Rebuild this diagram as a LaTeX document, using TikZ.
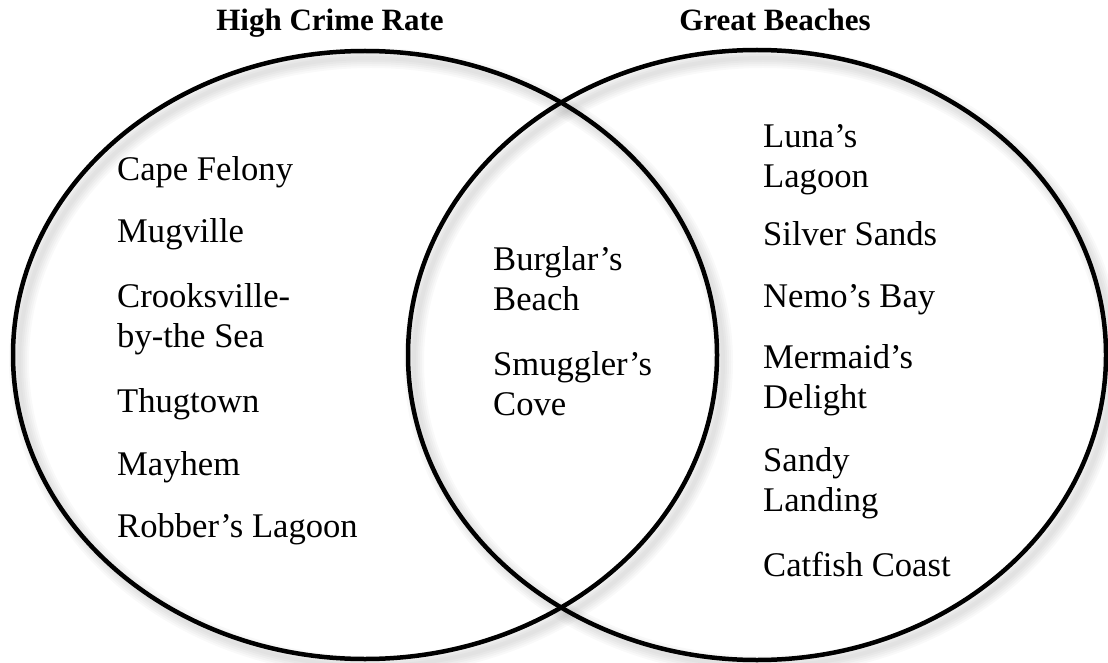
\documentclass[tikz,border=0pt]{standalone}
\usepackage{fontspec}
\setmainfont{Liberation Serif}
\begin{document}
\begin{tikzpicture}[x=1pt,y=-1pt,
  item/.style={anchor=base west,inner sep=0pt,align=left,font=\fontsize{34.6}{40}\selectfont},
  title/.style={anchor=base,inner sep=0pt,font=\fontsize{31}{36}\selectfont\bfseries},
  ring/.style={line width=4.5pt,draw=black},
  shade/.style={line width=#1,draw=black,opacity=0.025}]
\useasboundingbox (0,0) rectangle (1108,663);
% soft drop shadow
\foreach \w in {4,8,12,16,20}{
  \draw[shade=\w pt] (371,362) ellipse [x radius=352,y radius=304];
  \draw[shade=\w pt] (763,362) ellipse [x radius=349,y radius=304];
}
\draw[ring] (365,355) ellipse [x radius=352,y radius=304];
\draw[ring] (757,355) ellipse [x radius=349,y radius=305];
\node[title] (t1) at (330,31) {High Crime Rate};
\node[title] (t2) at (775,31) {Great Beaches};
% left (multi-line nodes are placed by their last line's baseline)
\node[item] (a1) at (117,181) {Cape Felony};
\node[item] (a2) at (117,243) {Mugville};
\node[item] (a3) at (117,347) {Crooksville-\\by-the Sea};
\node[item] (a4) at (117,412) {Thugtown};
\node[item] (a5) at (117,475) {Mayhem};
\node[item] (a6) at (117,537) {Robber’s Lagoon};
% middle
\node[item] (b1) at (493,310) {Burglar’s\\Beach};
\node[item] (b2) at (493,415) {Smuggler’s\\Cove};
% right
\node[item] (c1) at (763,188) {Luna’s\\Lagoon};
\node[item] (c2) at (763,245) {Silver Sands};
\node[item] (c3) at (763,307) {Nemo’s Bay};
\node[item] (c4) at (763,408) {Mermaid’s\\Delight};
\node[item] (c5) at (763,511) {Sandy\\Landing};
\node[item] (c6) at (763,576) {Catfish Coast};
\end{tikzpicture}
\end{document}
